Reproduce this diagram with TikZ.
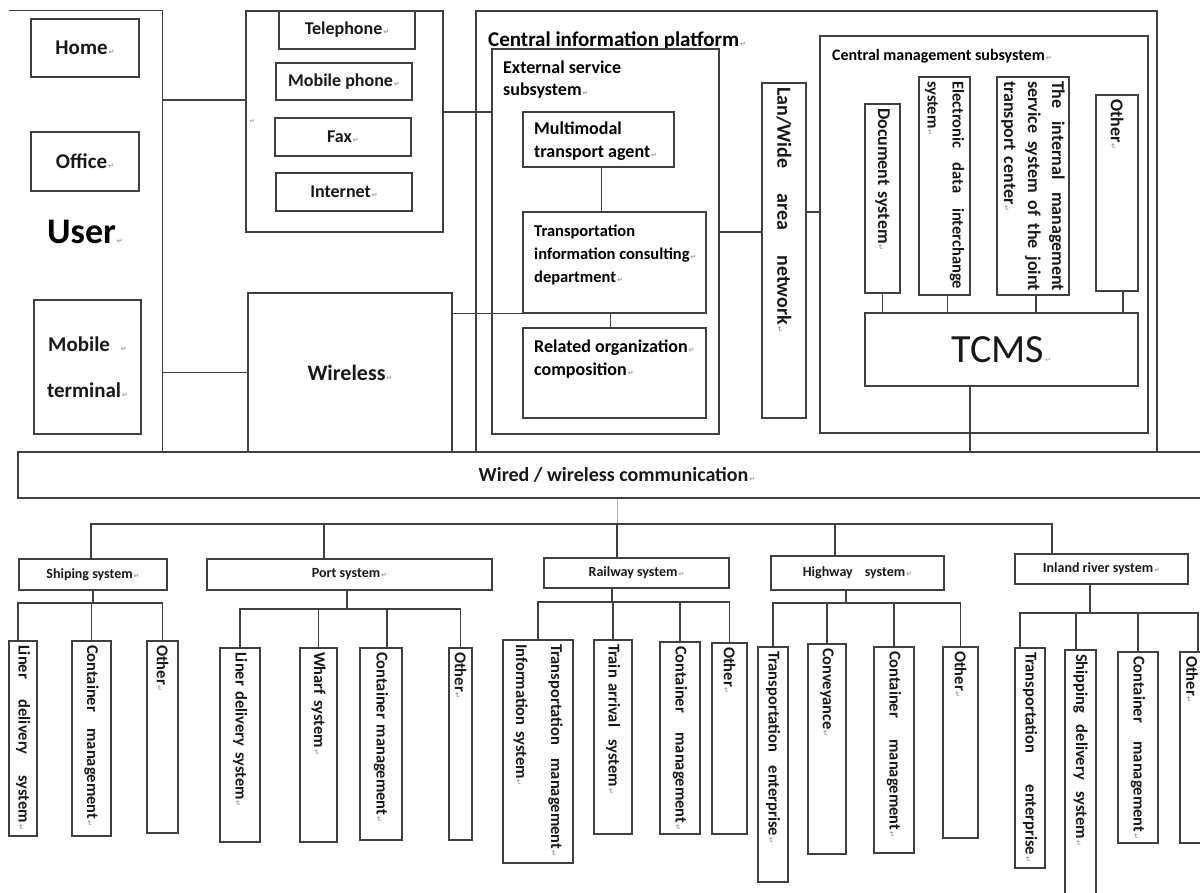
\documentclass[tikz,border=0pt]{standalone}
\usepackage{fontspec}
\setmainfont{Carlito}
\newfontfamily\markfont{DejaVu Sans}
\definecolor{linegray}{HTML}{3F3F3F}
\definecolor{feedblue}{HTML}{9DB9D5}
\newcommand\pmk{{\markfont\fontsize{7}{7}\selectfont\color{black!40}\kern1pt↵}}
\newcommand\spr[2]{\makebox[#1]{#2}}
\tikzset{
  box/.style={draw=linegray, line width=1.3pt, inner sep=0pt, text=black!90},
  vbox/.style 2 args={box, rotate=-90, align=left, inner xsep=4pt, inner ysep=0pt, text width=#1, minimum height=#2},
  wire/.style={draw=linegray, line width=1.3pt},
  feed/.style={draw=feedblue, line width=1pt},
  lbl14/.style={font=\bfseries\fontsize{14}{17}\selectfont},
  lbl16/.style={font=\bfseries\fontsize{16.5}{20}\selectfont},
  lbl18/.style={font=\bfseries\fontsize{18}{23}\selectfont},
  lbl20/.style={font=\bfseries\fontsize{20}{24}\selectfont},
  lbl21/.style={font=\bfseries\fontsize{21}{25}\selectfont},
}
\begin{document}
\begin{tikzpicture}[x=1pt, y=-1pt]
        \useasboundingbox (0,0) rectangle (1200,892);
        \fill[white] (0,0) rectangle (1200,892);
        \clip (0,0) rectangle (1200,892);

        % user side
        \node[minimum width=153pt, minimum height=441pt, inner sep=0pt] at (85.5,231.5) (user) {};
        \draw[wire] (user.north west) -- (user.north east) -- (user.south east);
        \node[box, lbl21, minimum width=108pt, minimum height=58pt] at (85,48) (home) {Home\pmk};
        \node[box, lbl21, minimum width=108pt, minimum height=59pt] at (85,161.5) (office) {Office\pmk};
        \node[anchor=base west, inner sep=0pt, font=\bfseries\fontsize{36}{40}\selectfont] at (47,243) (usr) {User\pmk};
        \node[box, align=center, font=\bfseries\fontsize{21}{46}\selectfont, minimum width=107pt, minimum height=134pt] at (87.5,367) (mobterm) {Mobile\hspace{10pt}\pmk\\terminal\pmk};

        % access channels
        \node[box, minimum width=197pt, minimum height=221pt] at (344.5,121.5) (telecom) {};
        \node[box, lbl18, minimum width=136pt, minimum height=38pt] at (347,30) (tel) {Telephone\pmk};
        \node[box, lbl18, minimum width=136pt, minimum height=37pt] at (344,81.5) (mob) {Mobile phone\pmk};
        \node[box, lbl18, minimum width=136pt, minimum height=38pt] at (343,137) (fax) {Fax\pmk};
        \node[box, lbl18, minimum width=136pt, minimum height=38pt] at (344,192) (inet) {Internet\pmk};
        \node[inner sep=0pt] at (252,121) (telmark) {\pmk};
        \node[box, font=\bfseries\fontsize{22}{26}\selectfont, minimum width=204pt, minimum height=159pt] at (350,372.5) (wless) {Wireless\pmk};

        % central information platform
        \node[box, minimum width=681pt, minimum height=441pt] at (816.5,231.5) (platform) {};
        \node[anchor=base west, inner sep=0pt, lbl21] at (488,46) (ptitle) {Central information platform\pmk};
        \node[box, minimum width=227pt, minimum height=385pt] at (605.5,241.5) (extsvc) {};
        \node[anchor=north west, inner sep=0pt, align=left, font=\bfseries\fontsize{18}{22}\selectfont] at (503,61) (exttxt) {External service\\subsystem\pmk};
        \node[box, minimum width=151pt, minimum height=55pt] at (598.5,139.5) (agent) {};
        \node[anchor=north west, inner sep=0pt, align=left, lbl18] at (534,122) (agenttxt) {Multimodal\\transport agent\pmk};
        \node[box, minimum width=183pt, minimum height=101pt] at (614.5,262.5) (consult) {};
        \node[anchor=north west, inner sep=0pt, align=left, font=\bfseries\fontsize{16.5}{23}\selectfont] at (534,225) (consulttxt) {Transportation\\information consulting\pmk\\department\pmk};
        \node[box, minimum width=183pt, minimum height=90pt] at (614.5,373) (related) {};
        \node[anchor=north west, inner sep=0pt, align=left, lbl18] at (534,340) (relatedtxt) {Related organization\pmk\\composition\pmk};
        \node[vbox={327pt}{44pt}, lbl20] at (784,250.5) (lan) {\spr{245pt}{Lan/Wide\hfill area\hfill network\pmk}};

        % central management subsystem
        \node[box, minimum width=328pt, minimum height=397pt] at (984,234.5) (mgmt) {};
        \node[anchor=base west, inner sep=0pt, font=\bfseries\fontsize{16}{19}\selectfont] at (832,60) (mgmttxt) {Central management subsystem\pmk};
        \node[vbox={181pt}{35pt}, lbl18] at (882.5,198.5) (doc) {Document system\pmk};
        \node[vbox={210pt}{51pt}, font=\bfseries\fontsize{16.5}{25}\selectfont] at (944.5,186) (edi) {\spr{208pt}{Electronic\hfill data\hfill interchange}\\system\pmk};
        \node[vbox={210pt}{72pt}, font=\bfseries\fontsize{18}{24}\selectfont] at (1033,186) (internal) {\spr{210pt}{The\hfill internal\hfill management}\\\spr{210pt}{service\hfill system\hfill of\hfill the\hfill joint}\\transport center\pmk};
        \node[vbox={188pt}{42pt}, lbl18] at (1117,193) (other1) {Other\pmk};
        \node[box, font=\fontsize{40}{44}\selectfont, minimum width=273pt, minimum height=73pt] at (1001.5,349.5) (tcms) {TCMS\pmk};

        % communication layer
        \node[box, lbl20, minimum width=1198pt, minimum height=46pt] at (617,475) (wired) {Wired / wireless communication\pmk};

        % transport systems
        \node[box, lbl14, minimum width=148pt, minimum height=31pt] at (93,574.5) (ship) {Shiping system\pmk};
        \node[box, lbl14, minimum width=285pt, minimum height=31pt] at (349.5,574.5) (port) {Port system\pmk};
        \node[box, lbl14, minimum width=185pt, minimum height=30pt] at (636.5,573) (rail) {Railway system\pmk};
        \node[box, lbl14, minimum width=173pt, minimum height=34pt] at (857.5,573) (hway) {Highway\hspace{12pt}system\pmk};
        \node[box, lbl14, minimum width=173pt, minimum height=30pt] at (1101.5,569) (inland) {Inland river system\pmk};

        \node[vbox={187pt}{28pt}, lbl16] at (23,738.5) (s1) {\spr{185pt}{Liner\hfill delivery\hfill system\pmk}};
        \node[vbox={187pt}{39pt}, lbl16] at (91.5,738.5) (s2) {\spr{181pt}{Container\hfill management\pmk}};
        \node[vbox={184pt}{31pt}, lbl16] at (162.5,737) (s3) {Other\pmk};

        \node[vbox={186pt}{40pt}, lbl16] at (240,745) (p1) {Liner delivery system\pmk};
        \node[vbox={186pt}{37pt}, lbl16] at (318.5,745) (p2) {Wharf system\pmk};
        \node[vbox={184pt}{42pt}, lbl16] at (381,744) (p3) {Container management\pmk};
        \node[vbox={184pt}{23pt}, lbl16] at (460.5,744) (p4) {Other\pmk};

        \node[vbox={215pt}{70pt}, font=\bfseries\fontsize{16.5}{35}\selectfont] at (538,751.5) (r1) {\spr{212pt}{Transportation\hfill management\pmk}\\Information system\pmk};
        \node[vbox={186pt}{38pt}, lbl16] at (613,737) (r2) {\spr{150pt}{Train arrival\hfill system\pmk}};
        \node[vbox={184pt}{40pt}, lbl16] at (680,738) (r3) {\spr{184pt}{Container\hfill management\pmk}};
        \node[vbox={183pt}{35pt}, lbl16] at (729.5,738.5) (r4) {Other\pmk};

        \node[vbox={227pt}{30pt}, lbl16] at (773,764.5) (h1) {\spr{192pt}{Transportation\hfill enterprise\pmk}};
        \node[vbox={202pt}{38pt}, lbl16] at (827,749) (h2) {Conveyance\pmk};
        \node[vbox={198pt}{40pt}, lbl16] at (894,750) (h3) {\spr{186pt}{Container\hfill management\pmk}};
        \node[vbox={183pt}{35pt}, lbl16] at (960.5,742.5) (h4) {Other\pmk};

        \node[vbox={212pt}{30pt}, lbl16] at (1030,758) (i1) {\spr{210pt}{Transportation\hfill enterprise\pmk}};
        \node[vbox={242pt}{31pt}, lbl16] at (1080.5,775) (i2) {\spr{192pt}{Shipping\hfill delivery\hfill system\pmk}};
        \node[vbox={183pt}{40pt}, lbl16] at (1138,747.5) (i3) {\spr{183pt}{Container\hfill management\pmk}};
        \node[vbox={183pt}{24pt}, lbl16] at (1192,747.5) (i4) {Other\pmk};

        % helper levels and buses
        \coordinate (lvlA) at (0,100);
        \coordinate (lvlB) at (0,112);
        \coordinate (lvlC) at (0,232);
        \coordinate (lvlD) at (0,212);
        \coordinate (mbus) at (617,524);
        \coordinate (sbus) at (93,603);
        \coordinate (pbus) at (347,609);
        \coordinate (rbus) at (612,602);
        \coordinate (hbus) at (846,603);
        \coordinate (ibus) at (1090,613);

        % connectors, upper part
        \draw[wire] (user.east |- lvlA) -- (telecom.west |- lvlA);
        \draw[wire] (user.east |- wless.west) -- (wless.west);
        \draw[wire] (telecom.east |- lvlB) -- (extsvc.west |- lvlB);
        \draw[wire] (wless.east |- consult.south west) -- (consult.south west);
        \draw[wire] ([xshift=3pt]agent.south) -- ([xshift=3pt]agent.south |- consult.north);
        \draw[wire] ([xshift=-4pt]consult.south) -- ([xshift=-4pt]related.north);
        \draw[wire] (extsvc.east |- lvlC) -- (lan.south |- lvlC);
        \draw[wire] (lan.north |- lvlD) -- (mgmt.west |- lvlD);
        \draw[wire] (doc.east) -- (doc.east |- tcms.north);
        \draw[wire] ([xshift=3pt]edi.east) -- ([xshift=3pt]edi.east |- tcms.north);
        \draw[wire] ([xshift=3pt]internal.east) -- ([xshift=3pt]internal.east |- tcms.north);
        \draw[wire] ([xshift=6pt]other1.east) -- ([xshift=6pt]other1.east |- tcms.north);
        \draw[wire] ([xshift=-31.5pt]tcms.south) -- ([xshift=-31.5pt]tcms.south |- wired.north);

        % connectors, lower part
        \draw[feed] (wired.south) -- (mbus);
        \draw[wire] ([xshift=-2pt]ship.north) |- (mbus);
        \draw[wire] ([xshift=-25.5pt]port.north) |- (mbus);
        \draw[wire] ([xshift=-19.5pt]rail.north) -- (mbus);
        \draw[wire] ([xshift=-22.5pt]hway.north) |- (mbus);
        \draw[wire] ([xshift=-49.5pt]inland.north) |- (mbus);

        \draw[wire] (ship.south) -- (sbus);
        \draw[wire] ([xshift=-5pt]s1.west) |- (sbus);
        \draw[wire] (s2.west) |- (sbus);
        \draw[wire] (s3.west) |- (sbus);

        \draw[wire] ([xshift=-2.5pt]port.south) -- (pbus);
        \draw[wire] (p1.west) |- (pbus);
        \draw[wire] (p2.west) |- (pbus);
        \draw[wire] ([xshift=6pt]p3.west) |- (pbus);
        \draw[wire] (p4.west) |- (pbus);

        \draw[wire] ([xshift=-24.5pt]rail.south) -- (rbus);
        \draw[wire] (r1.west) |- (rbus);
        \draw[wire] (r2.west) |- (rbus);
        \draw[wire] (r3.west) |- (rbus);
        \draw[wire] (r4.west) |- (rbus);

        \draw[wire] ([xshift=-11.5pt]hway.south) -- (hbus);
        \draw[wire] (h1.west) |- (hbus);
        \draw[wire] (h2.west) |- (hbus);
        \draw[wire] (h3.west) |- (hbus);
        \draw[wire] (h4.west) |- (hbus);

        \draw[wire] ([xshift=-11.5pt]inland.south) -- (ibus);
        \draw[wire] ([xshift=-10pt]i1.west) |- (ibus);
        \draw[wire] ([xshift=-4.5pt]i2.west) |- (ibus);
        \draw[wire] (i3.west) |- (ibus);
        \draw[wire] ([xshift=6pt]i4.west) |- (ibus);
    \end{tikzpicture}
\end{document}
